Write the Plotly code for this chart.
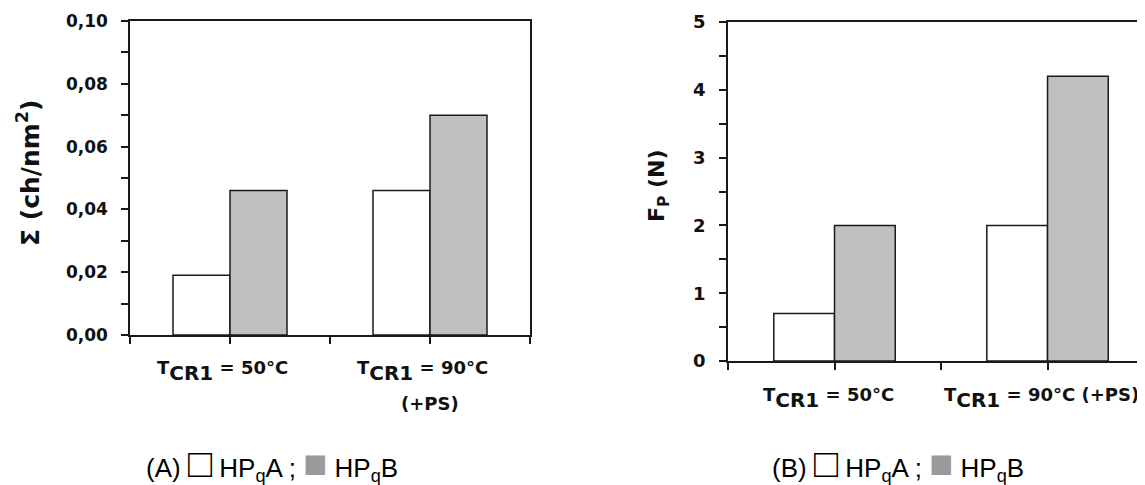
import plotly.graph_objects as go

# ---------------- data ----------------
categories_A = ["T<sub><sub><span style=\"font-size:20px\">CR1</span></sub></sub> = 50°C",
                "T<sub><sub><span style=\"font-size:20px\">CR1</span></sub></sub> = 90°C<br>(+PS)"]
categories_B = ["T<sub><sub><span style=\"font-size:20px\">CR1</span></sub></sub> = 50°C",
                "T<sub><sub><span style=\"font-size:20px\">CR1</span></sub></sub> = 90°C (+PS)"]
series_names = ["HP<sub>q</sub>A", "HP<sub>q</sub>B"]
sigma_HPqA = [0.019, 0.046]
sigma_HPqB = [0.046, 0.070]
fp_HPqA = [0.7, 2.0]
fp_HPqB = [2.0, 4.2]
ytitle_A = "Σ (ch/nm<sup>2</sup>)"
ytitle_B = "F<sub>P</sub> (N)"
caption_A = "(A)"
caption_B = "(B)"

W, H = 1145, 485
OFF = 8  # page body margin of the html page
FONT = "Liberation Sans"
BFONT = "DejaVu Sans"
LINE = "#1a1a1a"
GRAY = "#c0c0c0"
SWATCH_GRAY = "#9a9a9a"

fig = go.Figure()

xpos = list(range(len(categories_A)))
bw = 0.285


def add_bars(a, b, xa, ya):
    fig.add_trace(go.Bar(x=xpos, y=a, offset=-bw, width=bw, name=series_names[0],
                         marker=dict(color="white", line=dict(color=LINE, width=1.5)),
                         xaxis=xa, yaxis=ya, showlegend=False, hoverinfo="skip"))
    fig.add_trace(go.Bar(x=xpos, y=b, offset=0, width=bw, name=series_names[1],
                         marker=dict(color=GRAY, line=dict(color=LINE, width=1.5)),
                         xaxis=xa, yaxis=ya, showlegend=False, hoverinfo="skip"))


add_bars(sigma_HPqA, sigma_HPqB, "x", "y")
add_bars(fp_HPqA, fp_HPqB, "x2", "y2")


def px_x(p):
    return (p - OFF) / W


def px_y(p):
    return 1 - (p - OFF) / H


xcommon = dict(showgrid=False, zeroline=False, showline=True, linecolor=LINE, linewidth=1.5,
               ticks="outside", ticklen=7, tickwidth=1.5, tickcolor=LINE, automargin=False,
               tickmode="array", tickvals=[-0.5, 0, 0.5, 1, 1.5], showticklabels=False,
               mirror=True)
ycommon = dict(showgrid=False, zeroline=False, showline=True, linecolor=LINE, linewidth=1.5,
               ticks="outside", ticklen=7, tickwidth=1.5, tickcolor=LINE, automargin=False,
               ticklabelstandoff=10)

fig.update_layout(
    width=W, height=H,
    margin=dict(l=0, r=0, t=0, b=0, pad=0),
    paper_bgcolor="white", plot_bgcolor="white",
    separators=", ",
    barmode="overlay",
    showlegend=False,
    xaxis=dict(domain=[px_x(130), px_x(530)], range=[-0.5, 1.5], anchor="y", **xcommon),
    yaxis=dict(domain=[px_y(335), px_y(21)], range=[0, 0.10], dtick=0.02, tickformat=".2f",
               anchor="x", mirror=True,
               minor=dict(dtick=0.01, ticks="outside", ticklen=7, tickwidth=1.5, tickcolor=LINE),
               tickfont=dict(family=BFONT, size=17, color="#111", weight="bold"), **ycommon),
    xaxis2=dict(domain=[px_x(728), 1.0], range=[-0.5, 1.495], anchor="y2", **xcommon),
    yaxis2=dict(domain=[px_y(361), px_y(22)], range=[0, 5], dtick=1, tickformat="d",
                anchor="x2", mirror=False,
                minor=dict(dtick=0.5, ticks="outside", ticklen=7, tickwidth=1.5, tickcolor=LINE),
                tickfont=dict(family=BFONT, size=18, color="#111", weight="bold"), **ycommon),
)

ann = []


def add_xlabels(cats, xref, yref, shifts, size, yshift):
    for i, lab in enumerate(cats):
        lines = lab.split("<br>")
        for k, line in enumerate(lines):
            ann.append(dict(x=i, y=0, xref=xref, yref=yref, text=line, showarrow=False,
                            xanchor="center", yanchor="top", yshift=yshift - 36 * k,
                            xshift=shifts[i] + (8 if k else 0),
                            font=dict(family=BFONT, size=size, color="#111", weight="bold")))


add_xlabels(categories_A, "x", "y", [-8, -8], 18, -20)
add_xlabels(categories_B, "x2", "y2", [-6, -6], 18, -21)

# y titles
ann.append(dict(x=px_x(28), y=px_y(173), xref="paper", yref="paper", text=ytitle_A,
                textangle=-90, showarrow=False, xanchor="center", yanchor="middle",
                font=dict(family=BFONT, size=25, color="#111", weight="bold")))
ann.append(dict(x=px_x(658), y=px_y(186), xref="paper", yref="paper", text=ytitle_B,
                textangle=-90, showarrow=False, xanchor="center", yanchor="middle",
                font=dict(family=BFONT, size=22, color="#111", weight="bold")))


# captions (legend)
def caption(prefix):
    return (prefix + " <span style=\"font-size:40px\">□</span> " + series_names[0] +
            " ; <span style=\"font-size:40px;color:" + SWATCH_GRAY + "\">■</span> " + series_names[1])


ann.append(dict(x=px_x(272), y=px_y(463), xref="paper", yref="paper", text=caption(caption_A),
                showarrow=False, xanchor="center", yanchor="middle",
                font=dict(family=FONT, size=26, color="black")))
ann.append(dict(x=px_x(898), y=px_y(463), xref="paper", yref="paper", text=caption(caption_B),
                showarrow=False, xanchor="center", yanchor="middle",
                font=dict(family=FONT, size=26, color="black")))

fig.update_layout(annotations=ann)

fig.write_html("out.html")
